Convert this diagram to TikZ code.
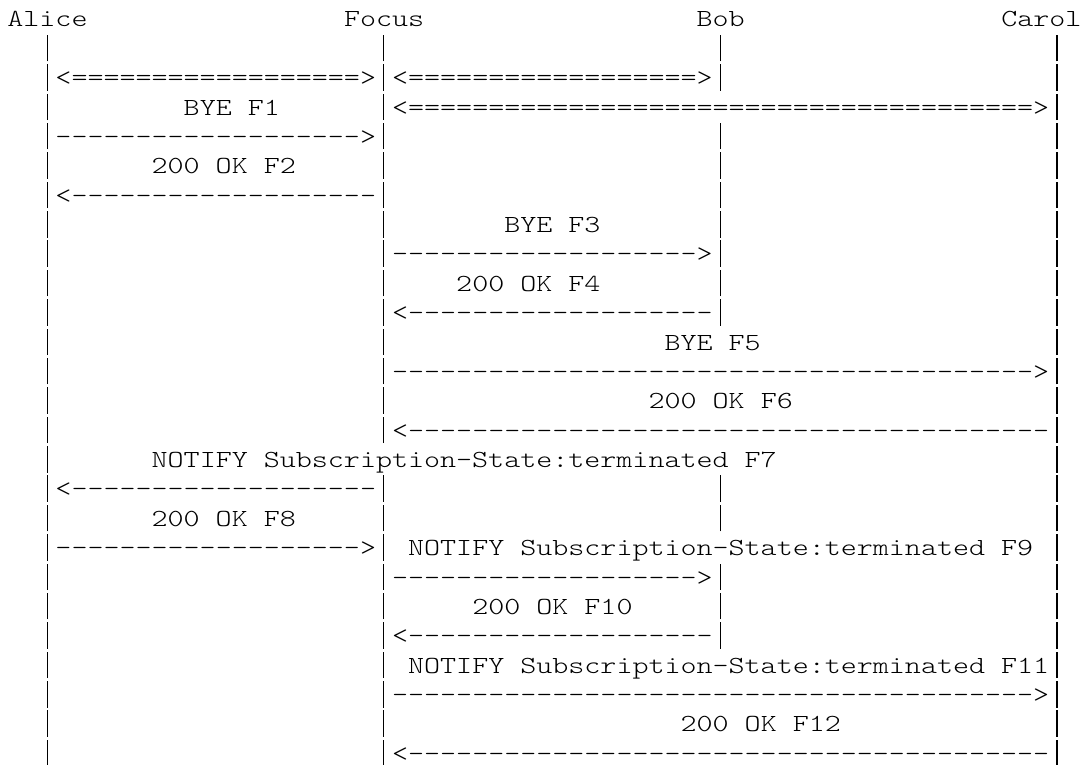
\documentclass[tikz,border=0pt]{standalone}
\usepackage{graphicx}
\usetikzlibrary{calc}

\newcommand\wide[1]{\scalebox{1.244}[1]{#1}}
\newcommand\run[2]{\foreach\k in {1,...,#1}{#2\kern0pt}}

\tikzset{
  ascii/.style={inner sep=0pt, anchor=base west, font=\ttfamily\fontseries{l}\fontsize{12.27}{14}\selectfont},
  lifeline/.style={line width=0.55pt}
}

\begin{document}
\begin{tikzpicture}[x=8.015pt, y=14.685pt]
    \useasboundingbox (-3.5pt,13.5pt) rectangle (538pt,-369pt);

    % participants
    \node[ascii] (alice) at (0,0) {\wide{Alice}};
    \node[ascii] (focus) at (21,0) {\wide{Focus}};
    \node[ascii] (bob) at (43,0) {\wide{Bob}};
    \node[ascii] (carol) at (62,0) {\wide{Carol}};

    % lifelines, one bar per text row
    \foreach \c/\rows in {2/{2,...,26}, 23/{2,...,15,17,18,...,26}, 44/{2,3,5,6,...,11,17,18,20,21,22}, 65/{2,...,26}}
        \foreach \r in \rows
            \draw[lifeline] ($(\c+0.5,1-\r)+(0,-2.5pt)$) -- ++(0,13.25pt);

    % media sessions
    \node[ascii] (media1) at (3,-2) {\wide{<\run{18}{=}>}};
    \node[ascii] (media2) at (24,-2) {\wide{<\run{18}{=}>}};
    \node[ascii] (media3) at (24,-3) {\wide{<\run{39}{=}>}};

    % requests and responses
    \foreach \r/\c/\n in {5/3/19, 9/24/19, 13/24/40, 19/3/19, 20/24/19, 24/24/40}
        \node[ascii] (req\r) at (\c,1-\r) {\wide{\run{\n}{-}>}};
    \foreach \r/\c/\n in {7/3/19, 11/24/19, 15/24/40, 17/3/19, 22/24/19, 26/24/40}
        \node[ascii] (resp\r) at (\c,1-\r) {\wide{<\run{\n}{-}}};

    % message labels
    \node[ascii] (f1) at (11,-3) {\wide{BYE F1}};
    \node[ascii] (f2) at (9,-5) {\wide{200 OK F2}};
    \node[ascii] (f3) at (31,-7) {\wide{BYE F3}};
    \node[ascii] (f4) at (28,-9) {\wide{200 OK F4}};
    \node[ascii] (f5) at (41,-11) {\wide{BYE F5}};
    \node[ascii] (f6) at (40,-13) {\wide{200 OK F6}};
    \node[ascii] (f7) at (9,-15) {\wide{NOTIFY Subscription-State:terminated F7}};
    \node[ascii] (f8) at (9,-17) {\wide{200 OK F8}};
    \node[ascii] (f9) at (25,-18) {\wide{NOTIFY Subscription-State:terminated F9}};
    \node[ascii] (f10) at (29,-20) {\wide{200 OK F10}};
    \node[ascii] (f11) at (25,-22) {\wide{NOTIFY Subscription-State:terminated F11}};
    \node[ascii] (f12) at (42,-24) {\wide{200 OK F12}};

\end{tikzpicture}
\end{document}
